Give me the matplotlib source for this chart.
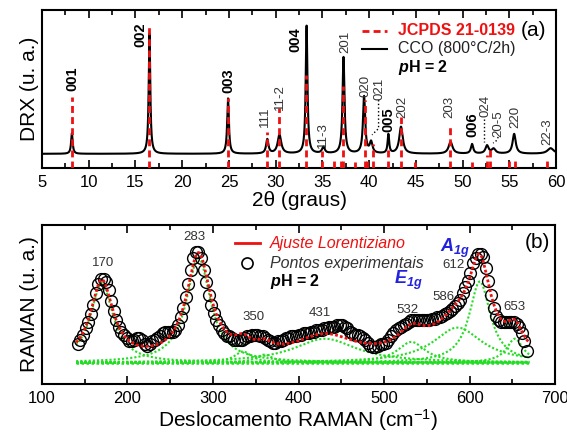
import numpy as np
import matplotlib
matplotlib.use("Agg")
import matplotlib.pyplot as plt
from matplotlib.ticker import MultipleLocator

plt.rcParams['font.family'] = ['Liberation Sans', 'DejaVu Sans']
plt.rcParams['mathtext.fontset'] = 'custom'
plt.rcParams['mathtext.rm'] = 'Liberation Sans'
plt.rcParams['mathtext.it'] = 'Liberation Sans:italic'
plt.rcParams['mathtext.bf'] = 'Liberation Sans:bold'
plt.rcParams['mathtext.bfit'] = 'Liberation Sans:italic:bold'

# ---------------- XRD data (panel a) ----------------
xrd_baseline = 0.09
xrd_peak_pos = [8.2, 16.5, 24.9, 29.1, 30.4, 33.3, 35.1, 37.25, 39.45, 40.2, 42.05, 43.4,
                48.7, 51.0, 52.6, 53.3, 55.5, 59.4]
xrd_peak_height = [0.13, 0.76, 0.35, 0.09, 0.12, 0.81, 0.04, 0.61, 0.36, 0.07, 0.12, 0.17,
                   0.075, 0.06, 0.05, 0.03, 0.125, 0.035]
xrd_peak_fwhm = [0.2, 0.2, 0.22, 0.3, 0.45, 0.22, 0.35, 0.25, 0.28, 0.35, 0.2, 0.45,
                 0.5, 0.3, 0.4, 0.5, 0.4, 0.8]

jcpds_pos = [8.2, 16.5, 24.9, 29.1, 30.4, 33.2, 35.0, 36.2, 37.0, 37.2, 38.5, 39.5, 39.8,
             40.4, 42.0, 43.4, 44.9, 48.6, 51.0, 52.6, 52.9, 55.0, 55.6, 59.0]
jcpds_height = [0.45, 0.905, 0.44, 0.23, 0.38, 0.59, 0.11, 0.06, 0.07, 0.52, 0.04, 0.43, 0.05,
                0.15, 0.12, 0.32, 0.04, 0.28, 0.04, 0.08, 0.13, 0.06, 0.07, 0.06]

hkl_labels = ['001', '002', '003', '111', '11-2', '004', '11-3', '201', '020', '021', '005',
              '202', '203', '006', '024', '20-5', '220', '22-3']
hkl_x = [8.2, 15.5, 24.9, 28.85, 30.45, 32.1, 35.05, 37.4, 39.55, 41.1, 42.0, 43.5, 48.6,
         51.0, 52.4, 53.8, 55.6, 59.1]
hkl_y = [0.49, 0.766, 0.475, 0.26, 0.367, 0.734, 0.127, 0.728, 0.45, 0.43, 0.228, 0.316,
         0.316, 0.196, 0.32, 0.196, 0.253, 0.146]
hkl_bold = ['001', '002', '003', '004', '005', '006']

# ---------------- Raman data (panel b) ----------------
raman_x = list(range(142, 668, 3))
raman_y = [0.25, 0.28, 0.31, 0.35, 0.39, 0.44, 0.50, 0.57, 0.63, 0.66,
           0.66, 0.64, 0.59, 0.52, 0.46, 0.40, 0.36, 0.33, 0.31, 0.29,
           0.27, 0.27, 0.28, 0.29, 0.29, 0.28, 0.25, 0.24, 0.25, 0.27,
           0.28, 0.29, 0.30, 0.32, 0.33, 0.33, 0.33, 0.33, 0.34, 0.37,
           0.42, 0.48, 0.55, 0.63, 0.72, 0.79, 0.83, 0.83, 0.79, 0.72,
           0.64, 0.56, 0.50, 0.45, 0.40, 0.37, 0.34, 0.32, 0.30, 0.30,
           0.29, 0.28, 0.28, 0.28, 0.28, 0.29, 0.30, 0.30, 0.31, 0.31,
           0.31, 0.30, 0.30, 0.29, 0.28, 0.27, 0.26, 0.26, 0.27, 0.27,
           0.28, 0.29, 0.29, 0.30, 0.30, 0.30, 0.31, 0.31, 0.32, 0.32,
           0.32, 0.33, 0.33, 0.34, 0.34, 0.34, 0.35, 0.35, 0.36, 0.36,
           0.36, 0.37, 0.37, 0.37, 0.36, 0.35, 0.33, 0.32, 0.31, 0.31,
           0.30, 0.29, 0.28, 0.26, 0.24, 0.23, 0.23, 0.24, 0.25, 0.25,
           0.26, 0.28, 0.30, 0.32, 0.34, 0.35, 0.36, 0.37, 0.38, 0.39,
           0.40, 0.40, 0.40, 0.40, 0.40, 0.40, 0.40, 0.40, 0.41, 0.41,
           0.42, 0.42, 0.43, 0.44, 0.45, 0.46, 0.47, 0.49, 0.51, 0.53,
           0.57, 0.61, 0.65, 0.70, 0.76, 0.79, 0.82, 0.82, 0.80, 0.73,
           0.65, 0.56, 0.48, 0.43, 0.40, 0.39, 0.39, 0.39, 0.39, 0.39,
           0.39, 0.38, 0.36, 0.32, 0.27, 0.21]

raman_baseline = 0.135
raman_peak_center = [170, 283, 335, 360, 431, 532, 586, 612, 653]
raman_peak_height = [0.50, 0.66, 0.07, 0.05, 0.15, 0.13, 0.22, 0.51, 0.15]
raman_peak_hwhm = [16, 17, 12, 12, 45, 20, 35, 15, 12]
raman_fit_range = [140, 670]

raman_labels = ['170', '283', '350', '431', '532', '586', '612', '653']
raman_label_x = [171, 278, 347, 425, 527, 569, 581, 653]
raman_label_y = [0.76, 0.925, 0.42, 0.45, 0.465, 0.55, 0.75, 0.485]

# ---------------- figure ----------------
fig = plt.figure(figsize=(5.67, 4.32), dpi=100)
ax1 = fig.add_axes([0.074, 0.611, 0.907, 0.366])
ax2 = fig.add_axes([0.074, 0.111, 0.905, 0.368])

for ax in (ax1, ax2):
    for s in ax.spines.values():
        s.set_linewidth(1.5)
    ax.tick_params(axis='x', which='both', direction='in', top=True, labelsize=12, pad=5)
    ax.tick_params(axis='x', which='major', length=6, width=1.2)
    ax.tick_params(axis='x', which='minor', length=3.5, width=1.2)
    ax.set_yticks([])

# Panel a
xx = np.linspace(5, 60, 4000)
prof = np.full_like(xx, xrd_baseline)
for c, h, w in zip(xrd_peak_pos, xrd_peak_height, xrd_peak_fwhm):
    prof += h / (1 + ((xx - c) / (w / 2)) ** 2)
ax1.plot(xx, prof, color='black', lw=1.5, zorder=2)
ax1.vlines(jcpds_pos, 0, jcpds_height, colors='#ee1111', linestyles=(0, (2.5, 1.5)),
           lw=2, zorder=3)
for lab, x, y in zip(hkl_labels, hkl_x, hkl_y):
    bold = lab in hkl_bold
    ax1.text(x, y, lab, rotation=90, ha='center', va='bottom',
             fontsize=10.5 if bold else 9.5, fontweight='bold' if bold else 'normal',
             color='black' if bold else '#333333')
# connectors
ax1.plot([41.0, 41.0, 40.3], [0.43, 0.25, 0.21], color='black', lw=1, ls=':')
ax1.plot([52.3, 52.3], [0.31, 0.165], color='black', lw=1, ls=':')
ax1.plot([53.8, 53.55, 53.25], [0.196, 0.17, 0.158], color='black', lw=1, ls=':')

ax1.set_xlim(5, 60)
ax1.set_ylim(0, 1)
ax1.xaxis.set_major_locator(MultipleLocator(5))
ax1.xaxis.set_minor_locator(MultipleLocator(2.5))
ax1.set_xlabel('2θ (graus)', fontsize=15, labelpad=1)
ax1.set_ylabel('DRX (u. a.)', fontsize=15, labelpad=2)

ax1.plot([0.623, 0.671], [0.867, 0.867], transform=ax1.transAxes, color='#ee1111',
         lw=2, ls=(0, (2.5, 1.5)))
ax1.plot([0.623, 0.671], [0.753, 0.753], transform=ax1.transAxes, color='black', lw=1.5)
ax1.text(0.693, 0.867, 'JCPDS 21-0139', transform=ax1.transAxes, color='#ee1111',
         fontweight='bold', fontsize=11.5, va='center')
ax1.text(0.693, 0.753, 'CCO (800°C/2h)', transform=ax1.transAxes, color='#222222',
         fontsize=11.5, va='center')
ax1.text(0.693, 0.639, r'$\mathbfit{p}$H = 2', transform=ax1.transAxes, color='black',
         fontweight='bold', fontsize=11.5, va='center')
ax1.text(0.955, 0.867, '(a)', transform=ax1.transAxes, fontsize=15, ha='center', va='center')

# Panel b
xr = np.linspace(raman_fit_range[0], raman_fit_range[1], 800)
fit = np.full_like(xr, raman_baseline)
ax2.plot(xr, fit, color='#22dd22', lw=1.8, ls=(0, (1, 1)), zorder=2)
for c, h, g in zip(raman_peak_center, raman_peak_height, raman_peak_hwhm):
    comp = h * g ** 2 / ((xr - c) ** 2 + g ** 2)
    fit = fit + comp
    ax2.plot(xr, raman_baseline + comp, color='#22dd22', lw=1.5, ls=(0, (1, 1)), zorder=2)
ax2.plot(raman_x, raman_y, 'o', mfc='none', mec='black', ms=8.5, mew=1.0, zorder=3)
ax2.plot(xr, fit, color='#ee1111', lw=2, ls=(0, (1, 0.8)), zorder=4)

for lab, x, y in zip(raman_labels, raman_label_x, raman_label_y):
    ax2.text(x, y, lab, ha='center', va='center', fontsize=9.5, color='#333333')
ax2.text(528, 0.65, r'$\mathbfit{E}_{\mathbfit{1g}}$', color='#2222dd', fontsize=13,
         ha='center', va='center')
ax2.text(583, 0.855, r'$\mathbfit{A}_{\mathbfit{1g}}$', color='#2222dd', fontsize=13,
         ha='center', va='center')

ax2.set_xlim(100, 700)
ax2.set_ylim(0, 1)
ax2.xaxis.set_major_locator(MultipleLocator(100))
ax2.xaxis.set_minor_locator(MultipleLocator(50))
ax2.set_xlabel('Deslocamento RAMAN (cm$^{-1}$)', fontsize=15, labelpad=1)
ax2.set_ylabel('RAMAN (u. a.)', fontsize=15, labelpad=2)

ax2.plot([0.376, 0.425], [0.887, 0.887], transform=ax2.transAxes, color='#ee1111', lw=2)
ax2.plot([0.40], [0.761], 'o', transform=ax2.transAxes, mfc='none', mec='black', ms=8, mew=1.2)
ax2.text(0.444, 0.887, 'Ajuste Lorentiziano', transform=ax2.transAxes, color='#ee1111',
         fontstyle='italic', fontsize=11.5, va='center')
ax2.text(0.444, 0.761, 'Pontos experimentais', transform=ax2.transAxes, color='#333333',
         fontstyle='italic', fontsize=11.5, va='center')
ax2.text(0.444, 0.642, r'$\mathbfit{p}$H = 2', transform=ax2.transAxes, color='black',
         fontweight='bold', fontsize=11.5, va='center')
ax2.text(0.965, 0.893, '(b)', transform=ax2.transAxes, fontsize=15, ha='center', va='center')

fig.savefig('out.png', dpi=100)
